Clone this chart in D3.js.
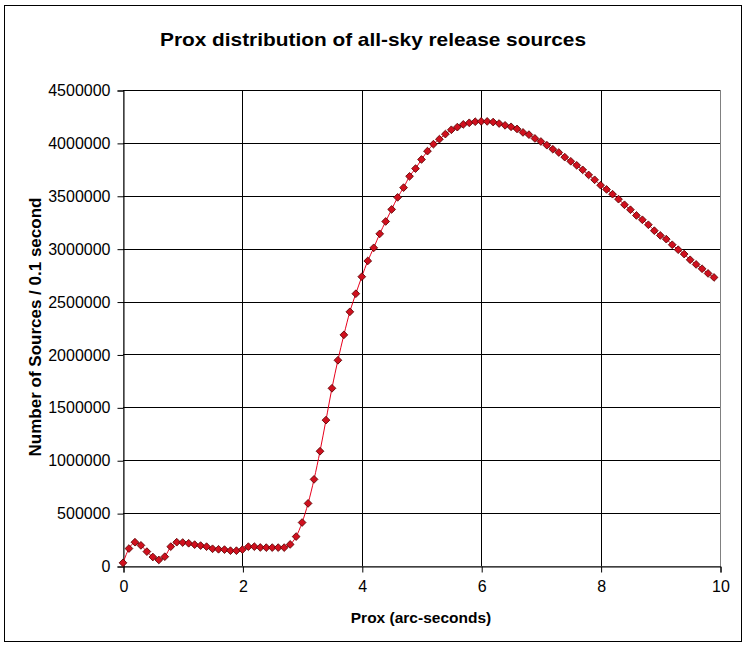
<!DOCTYPE html>
<html>
<head>
<meta charset="utf-8">
<script src="https://cdn.jsdelivr.net/npm/d3@7"></script>
<style>
  body { margin: 0; background: #fff; }
  svg { display: block; font-family: Arial, "Liberation Sans", sans-serif; }
</style>
</head>
<body>
<div id="vis"></div>
<script>
// prox bins (arc-seconds)
var prox = [
  0.0, 0.1, 0.2, 0.3, 0.4, 0.5, 0.6, 0.7, 0.8, 0.9,
  1.0, 1.1, 1.2, 1.3, 1.4, 1.5, 1.6, 1.7, 1.8, 1.9,
  2.0, 2.1, 2.2, 2.3, 2.4, 2.5, 2.6, 2.7, 2.8, 2.9,
  3.0, 3.1, 3.2, 3.3, 3.4, 3.5, 3.6, 3.7, 3.8, 3.9,
  4.0, 4.1, 4.2, 4.3, 4.4, 4.5, 4.6, 4.7, 4.8, 4.9,
  5.0, 5.1, 5.2, 5.3, 5.4, 5.5, 5.6, 5.7, 5.8, 5.9,
  6.0, 6.1, 6.2, 6.3, 6.4, 6.5, 6.6, 6.7, 6.8, 6.9,
  7.0, 7.1, 7.2, 7.3, 7.4, 7.5, 7.6, 7.7, 7.8, 7.9,
  8.0, 8.1, 8.2, 8.3, 8.4, 8.5, 8.6, 8.7, 8.8, 8.9,
  9.0, 9.1, 9.2, 9.3, 9.4, 9.5, 9.6, 9.7, 9.8, 9.9
];

// number of sources per 0.1 second bin
var sources = [
  30000, 165000, 225000, 195000, 136000, 85000, 57000, 88000, 183000, 225000,
  222000, 215000, 202000, 193000, 183000, 163000, 158000, 155000, 145000, 145000,
  155000, 183000, 183000, 175000, 174000, 174000, 174000, 174000, 204000, 278000,
  411000, 592000, 819000, 1085000, 1379000, 1680000, 1945000, 2185000, 2403000, 2574000,
  2735000, 2884000, 3008000, 3140000, 3257000, 3371000, 3485000, 3577000, 3684000, 3757000,
  3843000, 3922000, 3988000, 4035000, 4083000, 4124000, 4149000, 4175000, 4190000, 4200000,
  4203000, 4203000, 4197000, 4183000, 4166000, 4152000, 4132000, 4099000, 4078000, 4042000,
  4013000, 3978000, 3940000, 3909000, 3865000, 3826000, 3788000, 3745000, 3697000, 3651000,
  3600000, 3560000, 3515000, 3468000, 3415000, 3368000, 3314000, 3273000, 3226000, 3170000,
  3125000, 3090000, 3037000, 2990000, 2949000, 2895000, 2851000, 2810000, 2766000, 2728000
];

var xTicks = [0, 2, 4, 6, 8, 10];
var yTicks = [0, 500000, 1000000, 1500000, 2000000, 2500000, 3000000, 3500000, 4000000, 4500000];

var chartTitle = 'Prox distribution of all-sky release sources';
var xTitle = 'Prox (arc-seconds)';
var yTitle = 'Number of Sources / 0.1 second';

function proxChart() {
  var width = 747;
  var height = 650;

  // plot area edges
  var plotLeft = 123, plotRight = 720, plotTop = 90, plotBottom = 566;

  var svg = d3.select('#vis')
    .append('svg')
    .attr('width', width)
    .attr('height', height);

  // outer chart border
  svg.append('rect')
    .attr('x', 4.5)
    .attr('y', 5.5)
    .attr('width', 737)
    .attr('height', 636)
    .attr('fill', '#fff')
    .attr('stroke', '#000')
    .attr('stroke-width', 1);

  var x = d3.scaleLinear().domain([0, 10]).range([plotLeft, plotRight]);
  var y = d3.scaleLinear().domain([0, 4500000]).range([plotBottom, plotTop]);

  // plot area border (grey)
  svg.append('rect')
    .attr('x', plotLeft + 0.5)
    .attr('y', plotTop + 0.5)
    .attr('width', plotRight - plotLeft)
    .attr('height', plotBottom - plotTop)
    .attr('fill', 'none')
    .attr('stroke', '#808080');

  // horizontal gridlines
  svg.append('g')
    .selectAll('line')
    .data(yTicks.slice(1))
    .enter()
    .append('line')
    .attr('x1', plotLeft)
    .attr('x2', plotRight)
    .attr('y1', function (d) { return Math.round(y(d)) + 0.5; })
    .attr('y2', function (d) { return Math.round(y(d)) + 0.5; })
    .attr('stroke', '#000');

  // vertical gridlines
  svg.append('g')
    .selectAll('line')
    .data(xTicks.slice(1, -1))
    .enter()
    .append('line')
    .attr('x1', function (d) { return Math.round(x(d)) + 0.5; })
    .attr('x2', function (d) { return Math.round(x(d)) + 0.5; })
    .attr('y1', plotTop)
    .attr('y2', plotBottom)
    .attr('stroke', '#000');

  // axes
  var yAxis = svg.append('g')
    .attr('transform', 'translate(' + (plotLeft + 0.5) + ',0.5)')
    .call(d3.axisLeft(y).tickValues(yTicks).tickSize(6).tickPadding(7).tickFormat(d3.format('d')));

  var xAxis = svg.append('g')
    .attr('transform', 'translate(0.5,' + (plotBottom + 0.5) + ')')
    .call(d3.axisBottom(x).tickValues(xTicks).tickSize(6).tickPadding(8).tickFormat(d3.format('d')));

  [yAxis, xAxis].forEach(function (a) {
    a.select('.domain').attr('stroke', '#000');
    a.selectAll('.tick line').attr('stroke', '#000');
    a.selectAll('.tick text')
      .attr('fill', '#000')
      .style('font-family', 'Arial, "Liberation Sans", sans-serif')
      .style('font-size', '16px');
  });

  // smoothed line
  var line = d3.line()
    .x(function (d, i) { return x(prox[i]); })
    .y(function (d) { return y(d); })
    .curve(d3.curveCatmullRom.alpha(0));

  svg.append('path')
    .datum(sources)
    .attr('d', line)
    .attr('fill', 'none')
    .attr('stroke', '#e8001c')
    .attr('stroke-width', 1);

  // diamond markers
  var diamond = d3.symbol().type(d3.symbolSquare).size(30);

  svg.append('g')
    .selectAll('path')
    .data(sources)
    .enter()
    .append('path')
    .attr('d', diamond)
    .attr('transform', function (d, i) {
      return 'translate(' + x(prox[i]) + ',' + y(d) + ') rotate(45)';
    })
    .attr('fill', '#d0101e')
    .attr('stroke', '#5a0000')
    .attr('stroke-width', 0.8);

  // titles
  svg.append('text')
    .attr('x', 373)
    .attr('y', 46)
    .attr('text-anchor', 'middle')
    .attr('font-weight', 'bold')
    .attr('font-size', 19)
    .attr('textLength', 426)
    .attr('lengthAdjust', 'spacingAndGlyphs')
    .text(chartTitle);

  svg.append('text')
    .attr('x', 421)
    .attr('y', 623)
    .attr('text-anchor', 'middle')
    .attr('font-weight', 'bold')
    .attr('font-size', 15.5)
    .text(xTitle);

  svg.append('text')
    .attr('transform', 'translate(41,327) rotate(-90)')
    .attr('text-anchor', 'middle')
    .attr('font-weight', 'bold')
    .attr('font-size', 17)
    .text(yTitle);
}

proxChart();
</script>
</body>
</html>
